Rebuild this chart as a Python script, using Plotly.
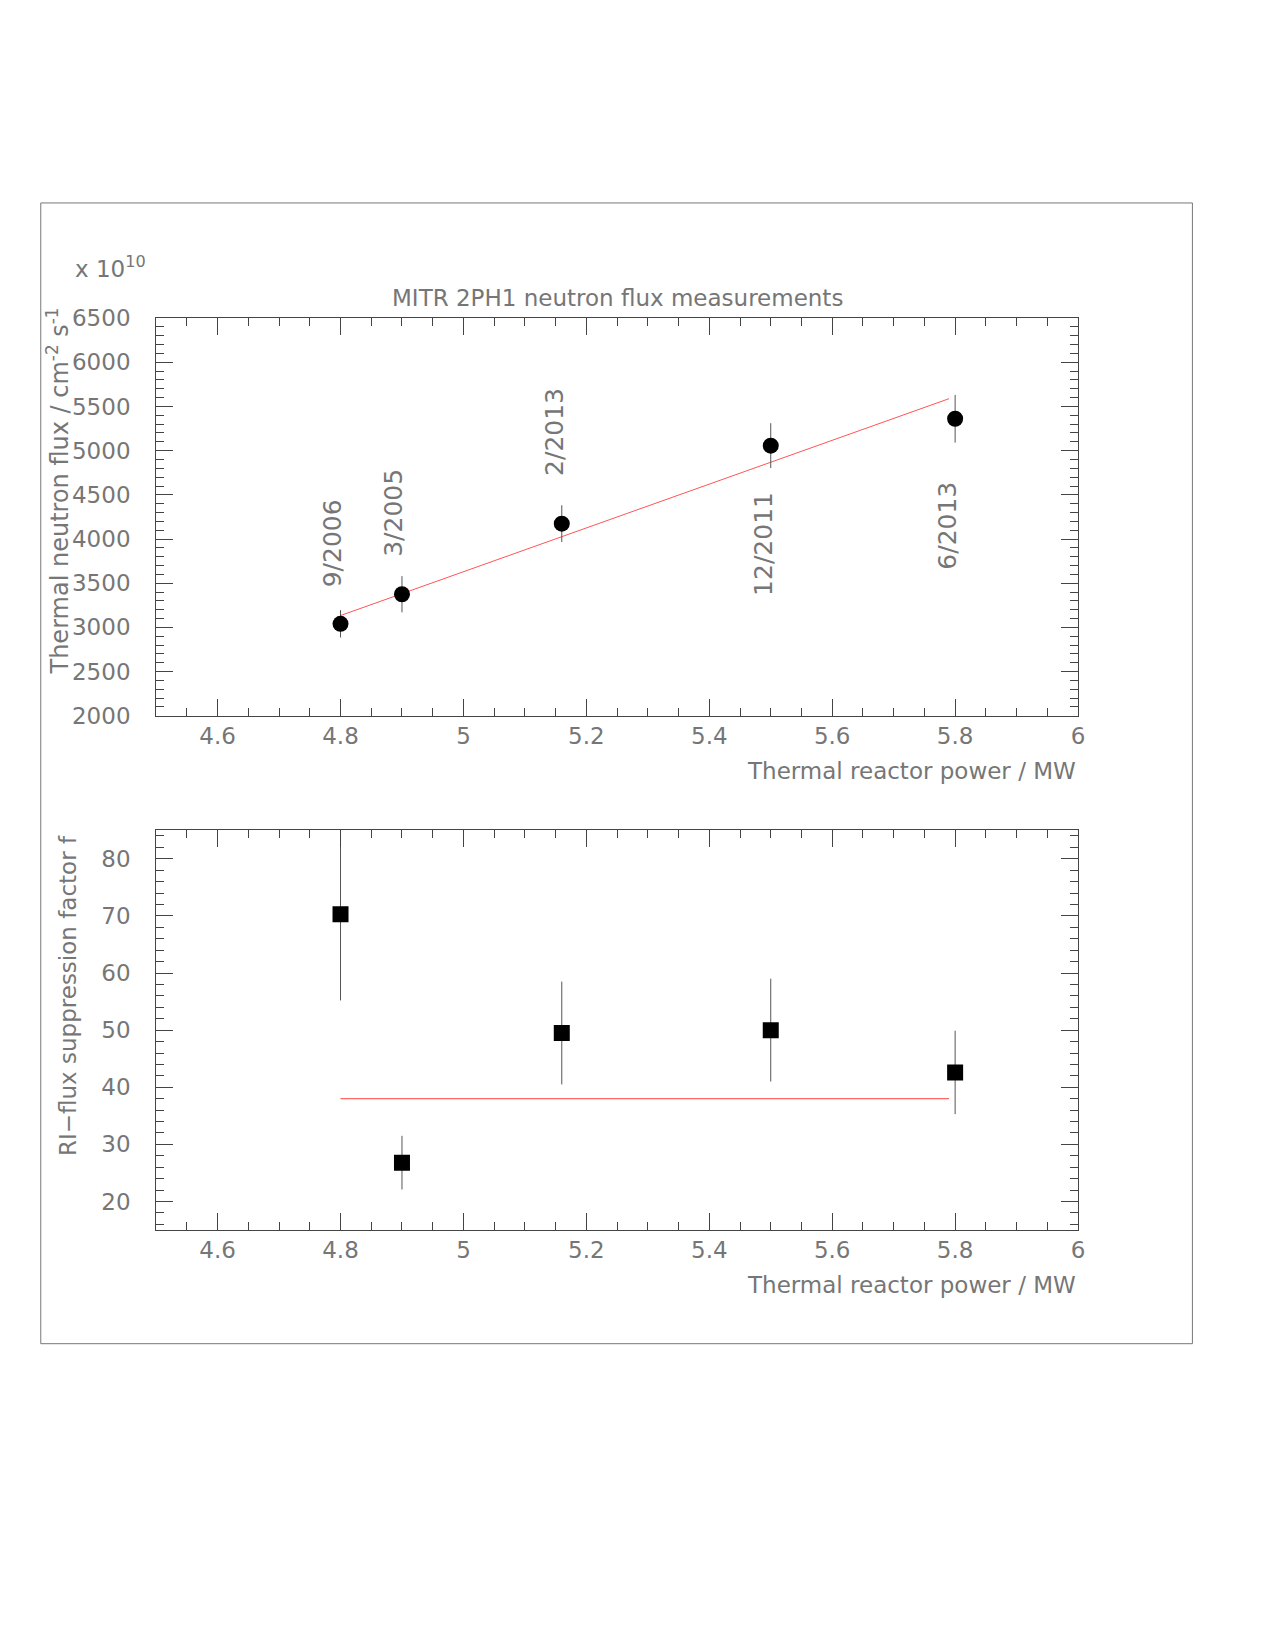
import plotly.graph_objects as go

# ---------------- data ----------------
power = [4.8, 4.9, 5.16, 5.5, 5.8]
flux = [3040, 3375, 4174, 5057, 5361]
flux_err = [155, 205, 208, 254, 270]
dates = ["9/2006", "3/2005", "2/2013", "12/2011", "6/2013"]

fit_flux_x = [4.8, 5.79]
fit_flux_y = [3134, 5588]

supp = [70.3, 26.8, 49.5, 50.0, 42.6]
supp_err = [15.1, 4.7, 9.0, 9.0, 7.3]

fit_supp_x = [4.8, 5.79]
fit_supp_y = [38.0, 38.0]

x_tickvals = [4.6, 4.8, 5.0, 5.2, 5.4, 5.6, 5.8, 6.0]
x_ticktext = ["4.6", "4.8", "5", "5.2", "5.4", "5.6", "5.8", "6"]
y1_tickvals = [2000, 2500, 3000, 3500, 4000, 4500, 5000, 5500, 6000, 6500]
y1_ticktext = [str(v) for v in y1_tickvals]
y2_tickvals = [20, 30, 40, 50, 60, 70, 80]
y2_ticktext = [str(v) for v in y2_tickvals]

# label anchor (start of rotated text) in data units
label_y = [3425, 3776, 4689, 3331, 3632]

# ---------------- style ----------------
W, H = 1275, 1650
FONT = "DejaVu Sans, sans-serif"
TXT = "#767676"
AX = "#444444"
FS = 23


def px(x):
    return x / W


def py(y):
    return (H - y) / H


fig = go.Figure()

fig.add_trace(go.Scatter(
    x=fit_flux_x, y=fit_flux_y, mode="lines",
    line=dict(color="#ff5555", width=1), xaxis="x", yaxis="y", showlegend=False))
fig.add_trace(go.Scatter(
    x=power, y=flux, mode="markers",
    marker=dict(symbol="circle", size=16, color="black"),
    error_y=dict(type="data", array=flux_err, visible=True, thickness=1, width=0, color="#555555"),
    xaxis="x", yaxis="y", showlegend=False))

fig.add_trace(go.Scatter(
    x=fit_supp_x, y=fit_supp_y, mode="lines",
    line=dict(color="#ff6666", width=1.2), xaxis="x2", yaxis="y2", showlegend=False))
fig.add_trace(go.Scatter(
    x=power, y=supp, mode="markers",
    marker=dict(symbol="square", size=16, color="black"),
    error_y=dict(type="data", array=supp_err, visible=True, thickness=1, width=0, color="#555555"),
    xaxis="x2", yaxis="y2", showlegend=False, cliponaxis=True))


def xaxis_cfg(anchor):
    return dict(
        domain=[px(157), px(1084)], anchor=anchor, range=[4.5, 6.0],
        tickmode="array", tickvals=x_tickvals, ticktext=x_ticktext,
        ticks="inside", ticklen=17, tickwidth=1, tickcolor=AX,
        minor=dict(tickmode="linear", tick0=4.5, dtick=0.05, ticks="inside",
                   ticklen=8, tickwidth=1, tickcolor=AX),
        showline=True, linecolor=AX, linewidth=1, mirror="allticks",
        showgrid=False, zeroline=False,
        tickfont=dict(family=FONT, size=FS, color=TXT),
        ticklabelstandoff=0,
    )


def yaxis_cfg(anchor, dom, rng, tv, tt, minor_d, minor_0):
    return dict(
        domain=dom, anchor=anchor, range=rng,
        tickmode="array", tickvals=tv, ticktext=tt,
        ticks="inside", ticklen=17, tickwidth=1, tickcolor=AX,
        minor=dict(tickmode="linear", tick0=minor_0, dtick=minor_d, ticks="inside",
                   ticklen=8, tickwidth=1, tickcolor=AX),
        showline=True, linecolor=AX, linewidth=1, mirror="allticks",
        showgrid=False, zeroline=False,
        tickfont=dict(family=FONT, size=FS, color=TXT),
        ticklabelstandoff=20,
    )


fig.update_layout(
    width=W, height=H, margin=dict(l=0, r=0, t=0, b=0),
    paper_bgcolor="white", plot_bgcolor="white",
    xaxis=xaxis_cfg("y"),
    yaxis=yaxis_cfg("x", [py(714), py(310)], [2000, 6500], y1_tickvals, y1_ticktext, 100, 2000),
    xaxis2=xaxis_cfg("y2"),
    yaxis2=yaxis_cfg("x2", [py(1236), py(830)], [15.1, 85.05], y2_tickvals, y2_ticktext, 2, 20),
)

# outer frame
fig.add_shape(type="rect", xref="paper", yref="paper",
              x0=px(41), x1=px(1199), y0=py(1352), y1=py(193),
              line=dict(color="#777777", width=1))

ann = []
for xv, yv, t in zip(power, label_y, dates):
    ann.append(dict(x=xv, y=yv, xref="x", yref="y", text=t, textangle=-90,
                    xanchor="center", yanchor="bottom", xshift=-8, showarrow=False,
                    font=dict(family=FONT, size=25, color=TXT)))

ann += [
    dict(x=px(620.5), y=py(290), xref="paper", yref="paper",
         text="MITR 2PH1 neutron flux measurements", showarrow=False,
         xanchor="center", yanchor="middle", font=dict(family=FONT, size=FS, color=TXT)),
    dict(x=px(73), y=py(258), xref="paper", yref="paper",
         text="x 10<sup>10</sup>", showarrow=False,
         xanchor="left", yanchor="middle", font=dict(family=FONT, size=FS, color=TXT)),
    dict(x=px(58), y=py(297), xref="paper", yref="paper",
         text="Thermal neutron flux / cm<sup>-2</sup> s<sup>-1</sup>", textangle=-90,
         showarrow=False, xanchor="center", yanchor="top",
         font=dict(family=FONT, size=24, color=TXT)),
    dict(x=px(1084), y=py(770), xref="paper", yref="paper",
         text="Thermal reactor power / MW", showarrow=False,
         xanchor="right", yanchor="middle", font=dict(family=FONT, size=FS, color=TXT)),
    dict(x=px(1084), y=py(1292), xref="paper", yref="paper",
         text="Thermal reactor power / MW", showarrow=False,
         xanchor="right", yanchor="middle", font=dict(family=FONT, size=FS, color=TXT)),
    dict(x=px(69), y=py(833), xref="paper", yref="paper",
         text="RI\u2212flux suppression factor f", textangle=-90,
         showarrow=False, xanchor="center", yanchor="top",
         font=dict(family=FONT, size=FS, color=TXT)),
]
fig.update_layout(annotations=ann)

fig.write_html("out.html")
